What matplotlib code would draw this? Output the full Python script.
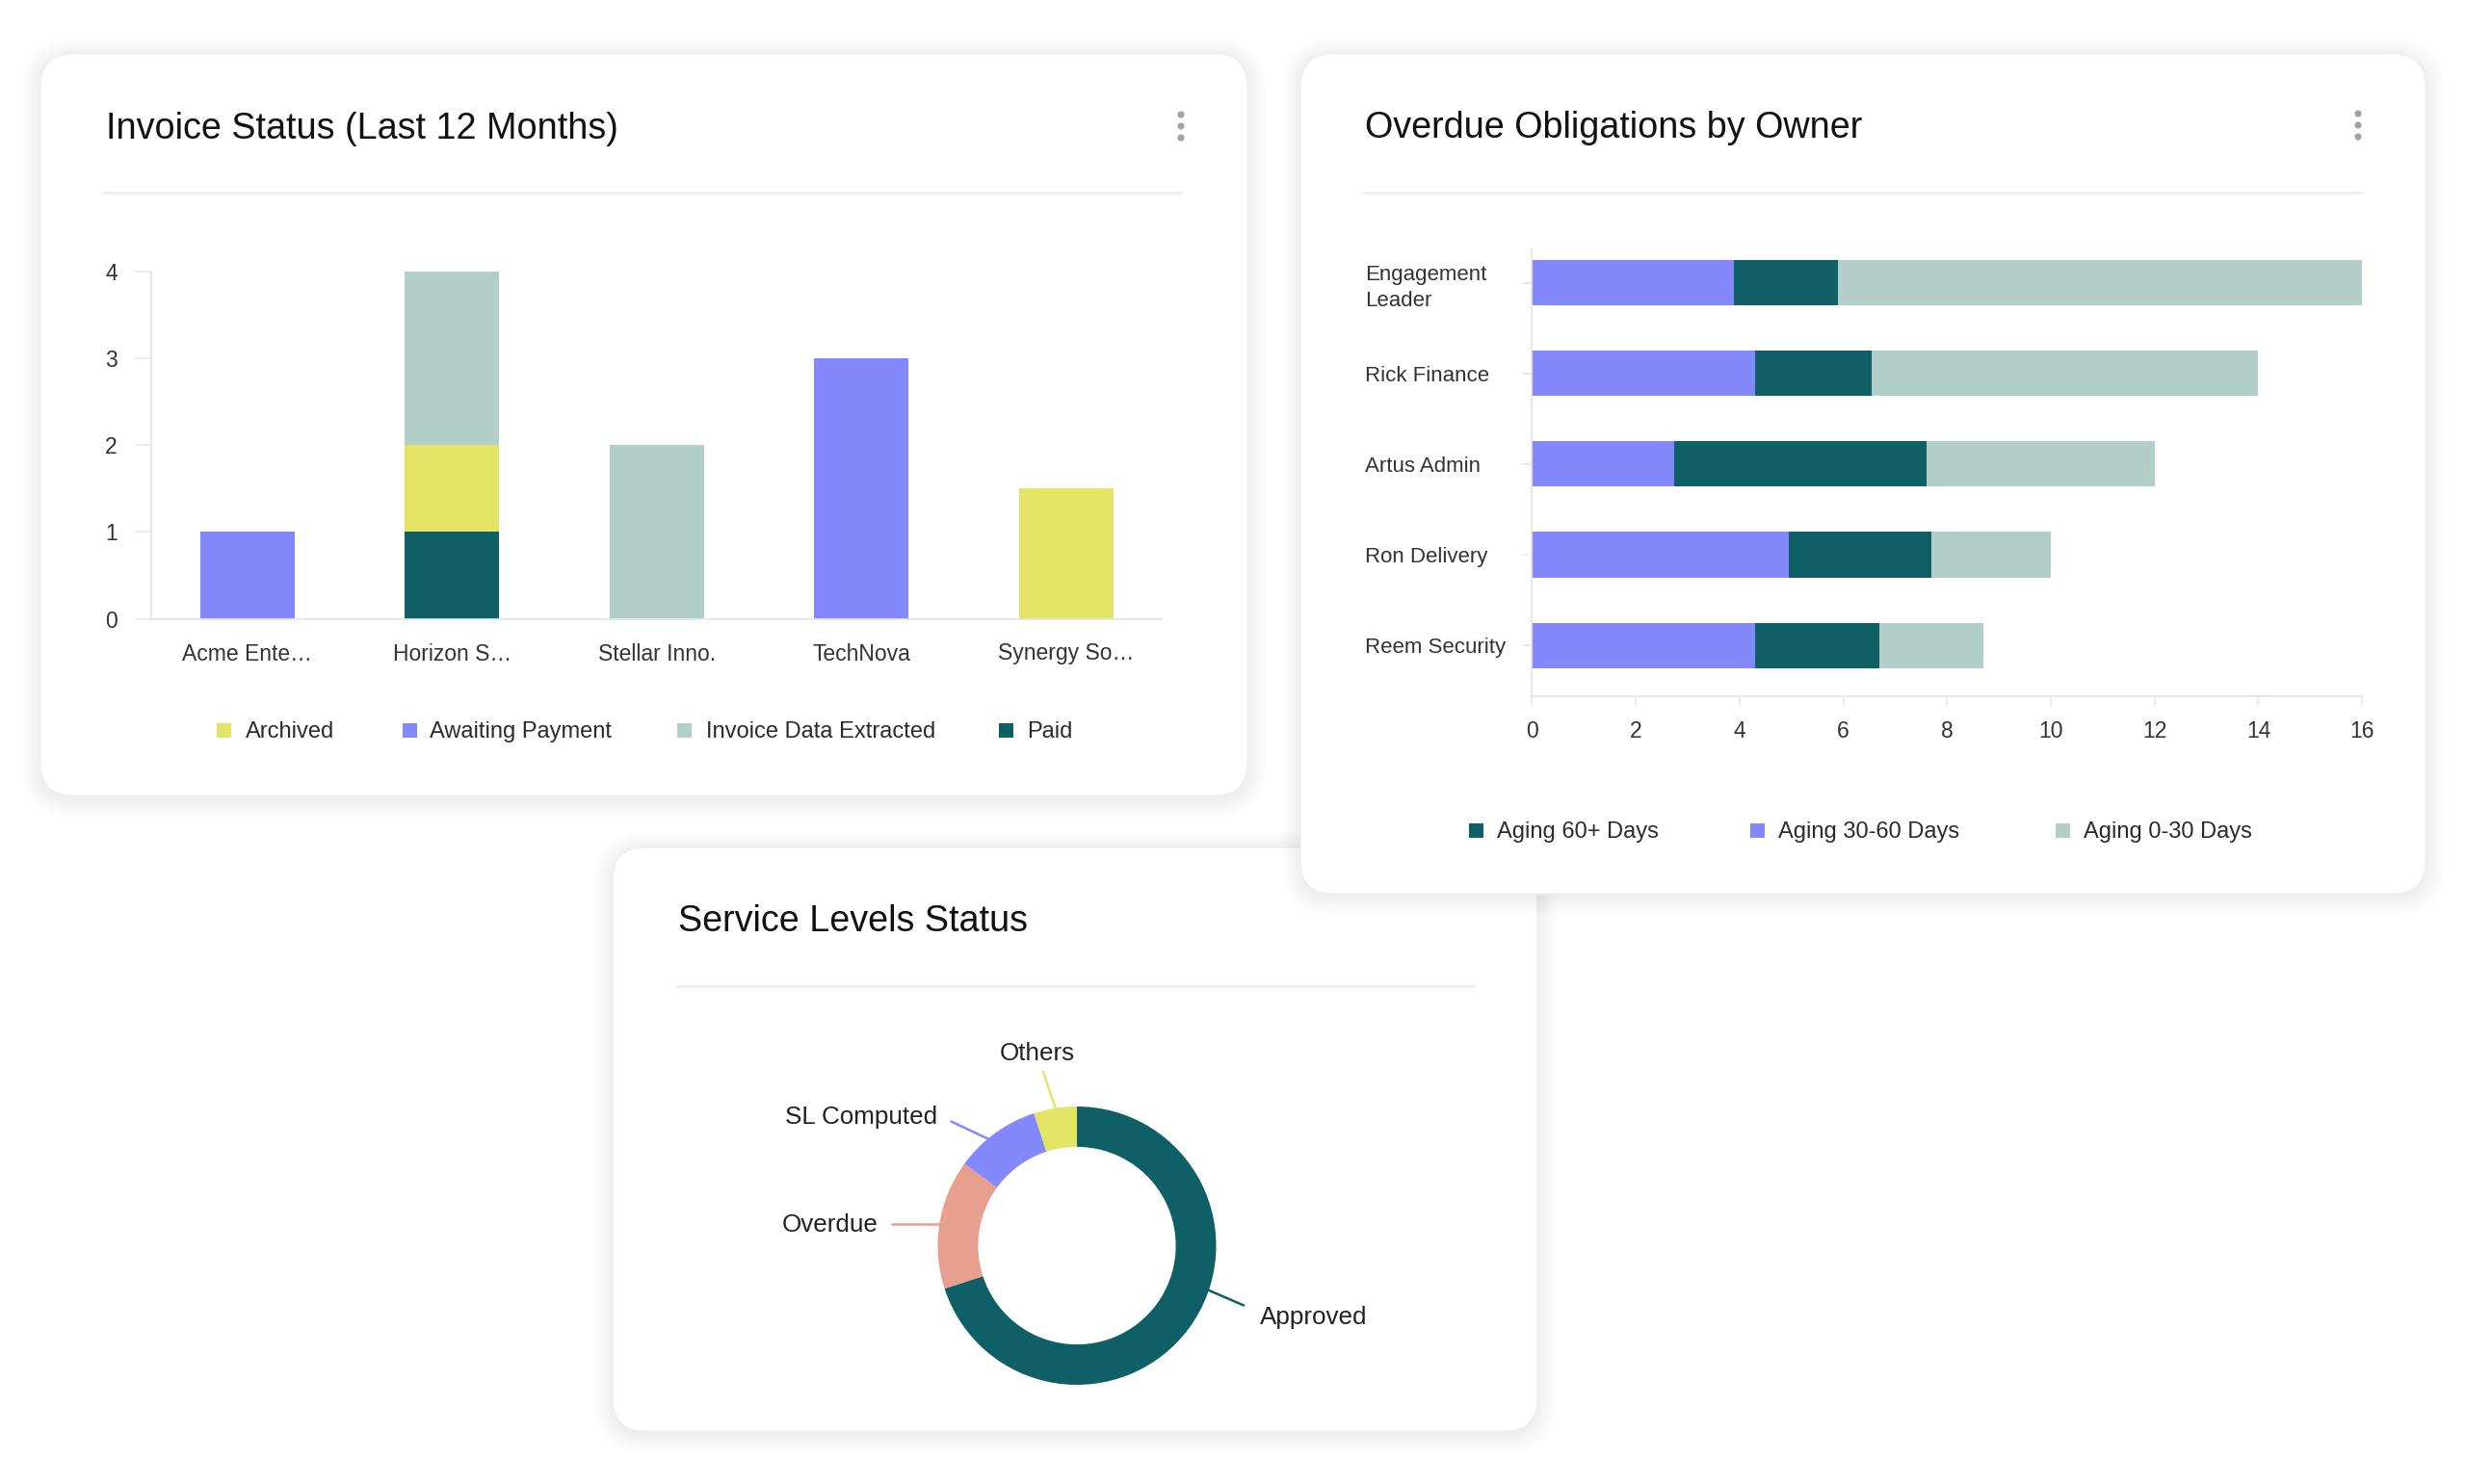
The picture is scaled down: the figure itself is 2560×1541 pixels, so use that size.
import matplotlib
matplotlib.use("Agg")
import matplotlib.pyplot as plt
from matplotlib.patches import FancyBboxPatch, Rectangle, Circle
import numpy as np

W, H = 2560, 1541
plt.rcParams['font.family'] = ['Liberation Sans', 'DejaVu Sans']

# colours used by the three cards
C_ARCH = '#E3E366'
C_AWAIT = '#8389FC'
C_EXTR = '#B1CFC8'
C_PAID = '#0E5F66'
C_OVER = '#E79F8E'
TXT = '#2B2B2B'
AXC = '#E6E6EB'

# --- invoice status data ---
companies = ['Acme Ente…', 'Horizon S…', 'Stellar Inno.', 'TechNova', 'Synergy So…']
archived = [0, 1, 0, 0, 1.5]
awaiting = [1, 0, 0, 3, 0]
extracted = [0, 2, 2, 0, 0]
paid = [0, 1, 0, 0, 0]

# --- overdue obligations data ---
owners = ['Engagement\nLeader', 'Rick Finance', 'Artus Admin', 'Ron Delivery', 'Reem Security']
aging_30_60 = [3.9, 4.3, 2.75, 4.95, 4.3]
aging_60 = [2.0, 2.25, 4.85, 2.75, 2.4]
aging_0_30 = [10.1, 7.45, 4.4, 2.3, 2.0]

# --- service levels data ---
sl_labels = ['Approved', 'Overdue', 'SL Computed', 'Others']
sl_values = [14, 3, 2, 1]
sl_colors = [C_PAID, C_OVER, C_AWAIT, C_ARCH]


def fx(x):
    return x / W


def fy(y):
    return 1 - y / H


def px_axes(x0, y0, x1, y1):
    return fig.add_axes([fx(x0), fy(y1), (x1 - x0) / W, (y1 - y0) / H])


def card(x0, y0, x1, y1, z):
    # soft shadow, then the white card
    for i in range(8):
        g = 2 + i * 2.5
        sh = FancyBboxPatch((x0 - g, H - y1 - g - 3), (x1 - x0) + 2 * g, (y1 - y0) + 2 * g,
                            boxstyle="round,pad=0,rounding_size=%f" % (34 + g),
                            transform=None, facecolor='black', edgecolor='none',
                            alpha=0.007, zorder=z - 0.5)
        fig.add_artist(sh)
    p = FancyBboxPatch((x0, H - y1), x1 - x0, y1 - y0,
                       boxstyle="round,pad=0,rounding_size=34",
                       transform=None, facecolor='white', edgecolor='#EEEEEE',
                       linewidth=0.8, zorder=z)
    fig.add_artist(p)


def separator(x0, x1, y, z):
    fig.add_artist(Rectangle((x0, H - y - 1.5), x1 - x0, 3, transform=None,
                             facecolor='#EDEDF0', edgecolor='none', zorder=z + 0.1))


def kebab(x, y, z):
    for dy in (-12, 0, 12):
        fig.add_artist(Circle((x, H - (y + dy)), 3.6, transform=None,
                              facecolor='#A3A3A3', edgecolor='none', zorder=z + 0.1))


def legend_row(items, y, z):
    for (xs, xt, color, label) in items:
        fig.add_artist(Rectangle((xs, H - y - 7.5), 15, 15, transform=None,
                                 facecolor=color, edgecolor='none', zorder=z + 0.1))
        fig.text(fx(xt), fy(y + 2), label, fontsize=17, color=TXT, va='center', ha='left')


fig = plt.figure(figsize=(W / 100, H / 100), dpi=100)
fig.patch.set_facecolor('white')

# cards (service levels sits beneath the overdue card)
card(636, 880, 1596, 1486, -6)
card(42, 56, 1295, 826, -3)
card(1350, 56, 2518, 928, -3)

# ---------- Invoice Status ----------
fig.text(fx(109.6), fy(143.6), 'Invoice Status (Last 12 Months)', fontsize=27.2,
         color='#111111', va='baseline', ha='left')
kebab(1226, 131, -3)
separator(107, 1228, 200, -3)

ax1 = px_axes(156.6, 281.8, 1205.6, 642.5)
ax1.set_facecolor('none')
x = np.arange(len(companies))
bw = 0.461
bottom = np.zeros(len(companies))
for vals, col in [(paid, C_PAID), (archived, C_ARCH), (awaiting, C_AWAIT), (extracted, C_EXTR)]:
    ax1.bar(x, vals, bw, bottom=bottom, color=col, linewidth=0)
    bottom += np.array(vals)
ax1.set_xlim(-0.472, len(companies) - 1 + 0.464)
ax1.set_ylim(0, 4)
ax1.set_yticks([0, 1, 2, 3, 4])
ax1.set_xticks(x)
ax1.set_xticklabels(companies)
for s in ['top', 'right']:
    ax1.spines[s].set_visible(False)
for s in ['left', 'bottom']:
    ax1.spines[s].set_color(AXC)
    ax1.spines[s].set_linewidth(1.3)
ax1.tick_params(axis='y', length=12, width=1.1, color=AXC, pad=13, labelsize=16.5,
                labelcolor='#333333')
ax1.tick_params(axis='x', length=0, pad=18, labelsize=16.5, labelcolor='#333333')

legend_row([(225, 255.3, C_ARCH, 'Archived'),
            (417.7, 446, C_AWAIT, 'Awaiting Payment'),
            (703, 733, C_EXTR, 'Invoice Data Extracted'),
            (1037, 1066, C_PAID, 'Paid')], 758.3, -3)

# ---------- Overdue Obligations ----------
fig.text(fx(1417), fy(142.6), 'Overdue Obligations by Owner', fontsize=27.2,
         color='#111111', va='baseline', ha='left')
kebab(2448, 130, -3)
separator(1415, 2453, 200, -3)

ax2 = px_axes(1590.3, 257.6, 2452.2, 722.8)
ax2.set_facecolor('none')
y = np.arange(len(owners))
bh = 0.5
ax2.barh(y, aging_30_60, bh, color=C_AWAIT, linewidth=0)
ax2.barh(y, aging_60, bh, left=aging_30_60, color=C_PAID, linewidth=0)
ax2.barh(y, aging_0_30, bh, left=np.add(aging_30_60, aging_60), color=C_EXTR, linewidth=0)
ax2.set_xlim(0, 16)
ax2.set_ylim(len(owners) - 1 + 0.56, -0.384)
ax2.set_xticks(range(0, 17, 2))
ax2.set_yticks(y)
ax2.set_yticklabels(owners, ha='left', linespacing=1.35)
for s in ['top', 'right']:
    ax2.spines[s].set_visible(False)
for s in ['left', 'bottom']:
    ax2.spines[s].set_color(AXC)
    ax2.spines[s].set_linewidth(1.3)
ax2.tick_params(axis='y', length=7.2, width=1.1, color=AXC, pad=117.5, labelsize=16,
                labelcolor='#333333')
ax2.tick_params(axis='x', length=7.2, width=1.1, color=AXC, pad=11, labelsize=16.5,
                labelcolor='#333333')

legend_row([(1525, 1554, C_PAID, 'Aging 60+ Days'),
            (1817, 1845.7, C_AWAIT, 'Aging 30-60 Days'),
            (2133.6, 2163, C_EXTR, 'Aging 0-30 Days')], 862.3, -3)

# ---------- Service Levels ----------
fig.text(fx(703.75), fy(967), 'Service Levels Status', fontsize=27.2,
         color='#111111', va='baseline', ha='left')
separator(702, 1532, 1024, -6)

cx, cy, R = 1118, 1293.5, 144.5
half = 250
ax3 = px_axes(cx - half, cy - half, cx + half, cy + half)
ax3.set_facecolor('none')
ax3.pie(sl_values, colors=sl_colors, startangle=90, counterclock=False, radius=1.0,
        wedgeprops=dict(width=0.29, linewidth=0))
lim = half / R
ax3.set_xlim(-lim, lim)
ax3.set_ylim(-lim, lim)
ax3.set_aspect('equal')
ax3.axis('off')

# label leader lines: (start angle, end angle, end radius, text dx, text dy, ha)
label_layout = [(-18.7, -19.7, 1.27, 0.12, -0.085, 'left'),
                (171, 171, 1.345, -0.10, -0.01, 'right'),
                (129.8, 135.3, 1.267, -0.10, 0.03, 'right'),
                (98.9, 101, 1.272, -0.04, 0.13, 'center')]
for lab, col, (a0, a1, r2, tdx, tdy, ha) in zip(sl_labels, sl_colors, label_layout):
    t0, t1 = np.deg2rad(a0), np.deg2rad(a1)
    x0, y0 = np.cos(t0), np.sin(t0)
    x1, y1 = r2 * np.cos(t1), r2 * np.sin(t1)
    if lab == 'Overdue':
        y1 = y0
    ax3.plot([x0, x1], [y0, y1], color=col, linewidth=1.8, clip_on=False)
    ax3.text(x1 + tdx, y1 + tdy, lab, fontsize=18.7, color='#222222', ha=ha,
             va='center', clip_on=False)

fig.savefig('out.png', dpi=100, facecolor='white')
